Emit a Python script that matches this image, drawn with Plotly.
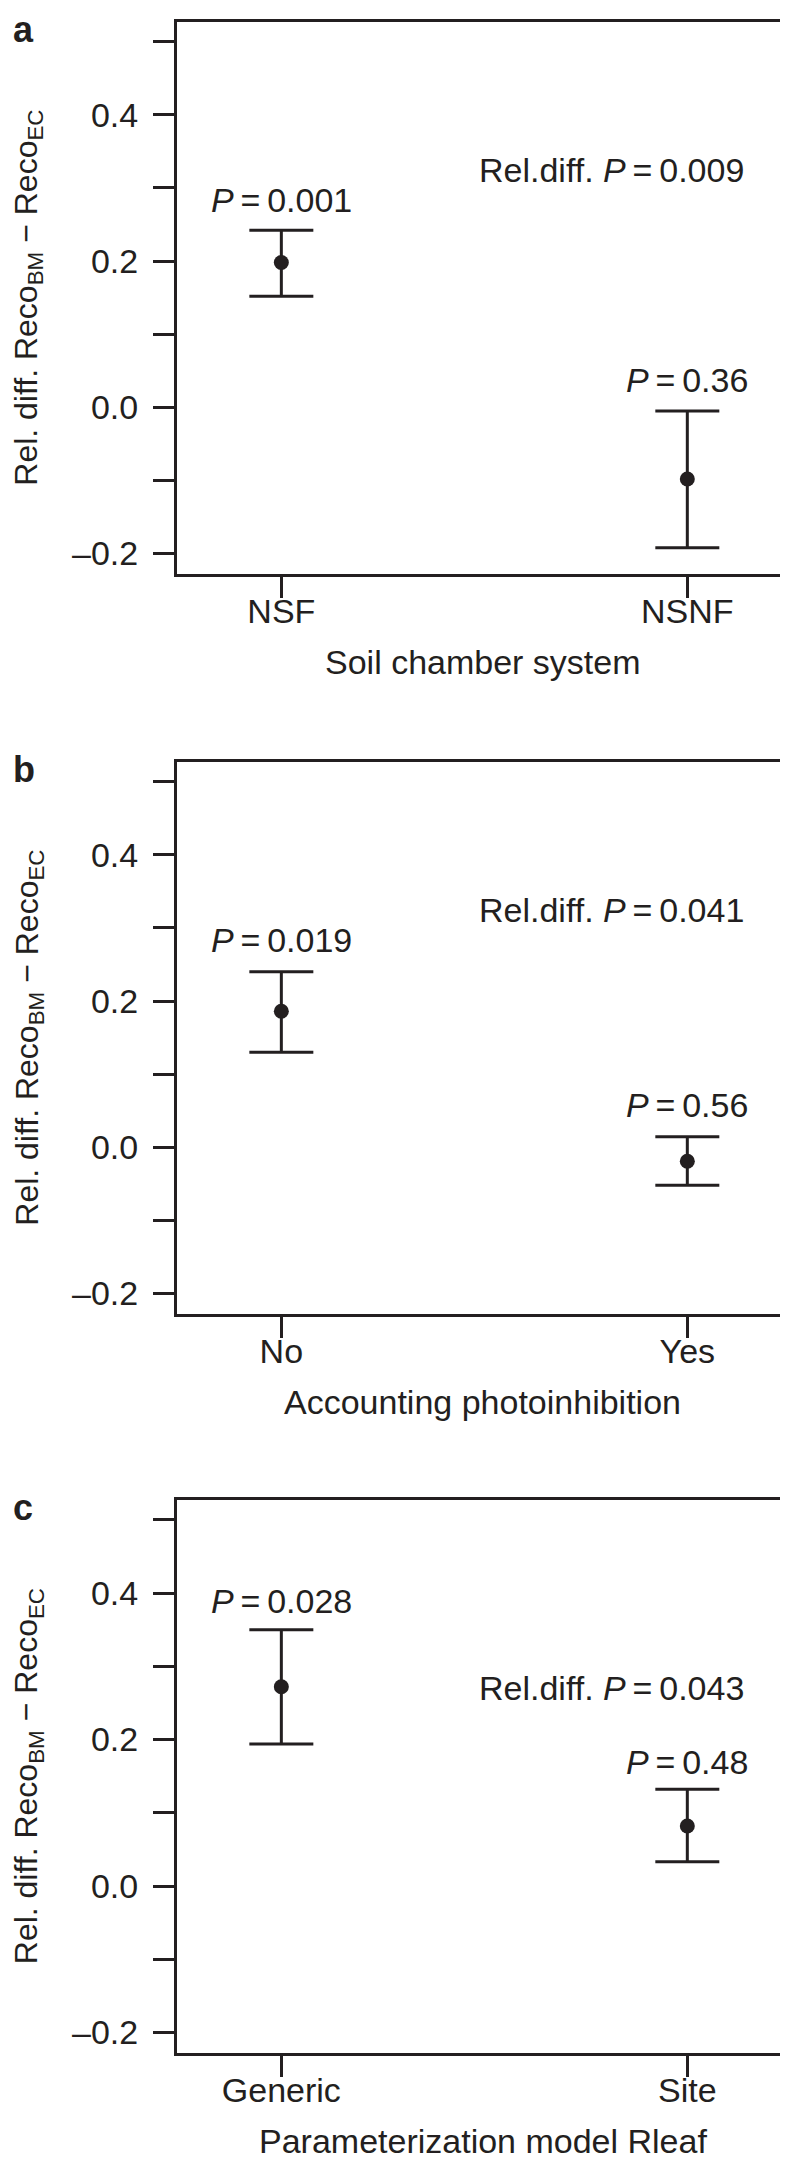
import plotly.graph_objects as go

# panel a - soil chamber system
cats_a = ["NSF", "NSNF"]
mean_a = [0.198, -0.098]
upper_a = [0.242, -0.005]
lower_a = [0.152, -0.192]
plab_a = ["0.001", "0.36"]
plab_y_a = [0.284, 0.038]
rel_a = "0.009"
rel_y_a = 0.325

# panel b - photoinhibition
cats_b = ["No", "Yes"]
mean_b = [0.186, -0.019]
upper_b = [0.240, 0.0145]
lower_b = [0.130, -0.052]
plab_b = ["0.019", "0.56"]
plab_y_b = [0.283, 0.058]
rel_b = "0.041"
rel_y_b = 0.325

# panel c - Rleaf parameterization
cats_c = ["Generic", "Site"]
mean_c = [0.272, 0.082]
upper_c = [0.350, 0.132]
lower_c = [0.194, 0.033]
plab_c = ["0.028", "0.48"]
plab_y_c = [0.389, 0.169]
rel_c = "0.043"
rel_y_c = 0.271

x_titles = ["Soil chamber system", "Accounting photoinhibition", "Parameterization model Rleaf"]
letters = ["a", "b", "c"]

y_major = [-0.2, 0.0, 0.2, 0.4]
y_major_text = ["\u20130.2", "0.0", "0.2", "0.4"]
y_minor = [-0.1, 0.1, 0.3, 0.5]

W, H = 788, 2159
L, R, T, B = 169, 5, 14, 114
INK = "#231f20"
FONT = "Liberation Sans, Arial, Helvetica, sans-serif"
FS = 34
TS = "\u2009"  # thin space around "="

# panel box tops/bottoms in pixels
box_px = [(14, 566), (754, 1306), (1492, 2045)]


def py2paper(py):
    return 1 - (py - T) / (H - T - B)


def px2paper(px):
    return (px - L) / (W - L - R)


panels = [
    (cats_a, mean_a, upper_a, lower_a, plab_a, plab_y_a, rel_a, rel_y_a),
    (cats_b, mean_b, upper_b, lower_b, plab_b, plab_y_b, rel_b, rel_y_b),
    (cats_c, mean_c, upper_c, lower_c, plab_c, plab_y_c, rel_c, rel_y_c),
]

fig = go.Figure()
annotations = []

for i, (cats, mean, upper, lower, plab, plab_y, rel, rel_y) in enumerate(panels):
    n = "" if i == 0 else str(i + 1)
    xs = [1, 2]
    fig.add_trace(go.Scatter(
        x=xs, y=mean, mode="markers",
        marker=dict(size=15, color=INK),
        error_y=dict(type="data", symmetric=False,
                     array=[u - m for u, m in zip(upper, mean)],
                     arrayminus=[m - l for m, l in zip(mean, lower)],
                     color=INK, thickness=3, width=32),
        xaxis="x" + n, yaxis="y" + n, showlegend=False,
    ))

    top, bot = box_px[i]
    fig.update_layout(**{
        "xaxis" + n: dict(
            domain=[0, 1], anchor="y" + n, range=[0.743, 2.248],
            tickvals=xs, ticktext=cats, ticks="outside", ticklen=21, tickwidth=3,
            tickcolor=INK, showline=True, linewidth=3, linecolor=INK, mirror=True,
            showgrid=False, zeroline=False, ticklabelstandoff=-16,
            tickfont=dict(family=FONT, size=FS, color=INK),
        ),
        "yaxis" + n: dict(
            domain=[py2paper(bot), py2paper(top)], anchor="x" + n, range=[-0.228, 0.527],
            tickvals=y_major, ticktext=y_major_text, ticks="outside", ticklen=21, tickwidth=3,
            minor=dict(tickmode="array", tickvals=y_minor, ticks="outside", ticklen=21,
                       tickwidth=3, tickcolor=INK, showgrid=False),
            tickcolor=INK, showline=True, linewidth=3, linecolor=INK, mirror=True,
            showgrid=False, zeroline=False, ticklabelstandoff=8,
            tickfont=dict(family=FONT, size=FS, color=INK),
        ),
    })

    for xv, lab, yv in zip(xs, plab, plab_y):
        annotations.append(dict(
            x=xv, y=yv, xref="x" + n, yref="y" + n, showarrow=False,
            text="<i>P</i>" + TS + "=" + TS + lab, xanchor="center", yanchor="middle",
            font=dict(family=FONT, size=FS, color=INK),
        ))
    annotations.append(dict(
        x=1.813, y=rel_y, xref="x" + n, yref="y" + n, showarrow=False,
        text="Rel.diff. <i>P</i>" + TS + "=" + TS + rel, xanchor="center", yanchor="middle",
        font=dict(family=FONT, size=FS, color=INK),
    ))

    # y title
    annotations.append(dict(
        x=px2paper(20), y=py2paper((top + bot) / 2), xref="paper", yref="paper",
        showarrow=False, textangle=-90, xanchor="center", yanchor="middle",
        text="Rel. diff. Reco<sub>BM</sub> \u2212 Reco<sub>EC</sub>",
        font=dict(family=FONT, size=32, color=INK), borderpad=0,
    ))
    # x title
    annotations.append(dict(
        x=px2paper(476), y=py2paper(bot + 88), xref="paper", yref="paper",
        showarrow=False, xanchor="center", yanchor="middle",
        text=x_titles[i], font=dict(family=FONT, size=FS, color=INK),
    ))
    # panel letter
    annotations.append(dict(
        x=px2paper(3), y=py2paper(top - 14), xref="paper", yref="paper",
        showarrow=False, xanchor="left", yanchor="top", borderpad=0,
        text="<b>" + letters[i] + "</b>",
        font=dict(family=FONT, size=36, color=INK),
    ))

fig.update_layout(
    width=W, height=H,
    margin=dict(l=L, r=R, t=T, b=B),
    paper_bgcolor="white", plot_bgcolor="white",
    annotations=annotations,
)

fig.write_html("out.html")
